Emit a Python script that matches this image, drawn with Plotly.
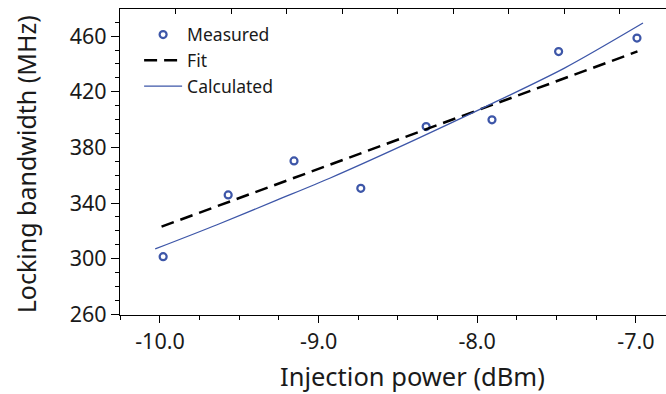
import plotly.graph_objects as go

# Data
meas_x = [-9.98, -9.57, -9.155, -8.734, -8.322, -7.907, -7.487, -6.993]
meas_y = [301.4, 345.8, 370.3, 350.6, 395.0, 399.8, 448.9, 458.6]

fit_x = [-9.99, -6.99]
fit_y = [323.0, 449.0]

calc_x = [-10.03, -9.64, -9.26, -8.93, -8.40, -7.96, -7.45, -6.955]
calc_y = [307.0, 324.4, 342.2, 357.8, 385.0, 408.6, 437.0, 469.4]

xticks = [-10.0, -9.0, -8.0, -7.0]
xticklabels = ["-10.0", "-9.0", "-8.0", "-7.0"]
yticks = [260, 300, 340, 380, 420, 460]

BLUE = "#3D56A8"
FONT = "Noto Sans"

fig = go.Figure()
fig.add_trace(go.Scatter(
    x=meas_x, y=meas_y, mode="markers", name="Measured",
    marker=dict(symbol="circle-open", size=7, color=BLUE, line=dict(width=2.2, color=BLUE)),
))
fig.add_trace(go.Scatter(
    x=fit_x, y=fit_y, mode="lines", name="Fit",
    line=dict(color="black", width=2.5, dash="13px,7px"),
))
fig.add_trace(go.Scatter(
    x=calc_x, y=calc_y, mode="lines", name="Calculated",
    line=dict(color=BLUE, width=1.3, shape="spline", smoothing=0.8),
))
# invisible trace to create the top axis
fig.add_trace(go.Scatter(x=[None], y=[None], xaxis="x2", showlegend=False, hoverinfo="skip"))

xr = [-10.252, -6.81]
fig.update_layout(
    width=666, height=394,
    margin=dict(l=120, r=0, t=9, b=79),
    paper_bgcolor="white", plot_bgcolor="white",
    font=dict(family=FONT, color="#1a1a1a", size=21),
    showlegend=True,
    legend=dict(
        x=0.035, y=0.975, xanchor="left", yanchor="top",
        bgcolor="rgba(0,0,0,0)", font=dict(size=17.5, family=FONT),
        itemwidth=38, tracegroupgap=0,
    ),
    xaxis=dict(
        range=xr, showgrid=False, zeroline=False,
        showline=True, linecolor="black", linewidth=1.3,
        tickmode="array", tickvals=xticks, ticktext=xticklabels,
        ticks="outside", ticklen=7, tickwidth=1.2, tickcolor="black",
        tickfont=dict(size=21.5, family=FONT),
        minor=dict(dtick=0.25, tick0=-10, ticks="outside", ticklen=4, tickwidth=1.2, tickcolor="black"),
    ),
    xaxis2=dict(
        range=xr, overlaying="x", side="top", showgrid=False, zeroline=False,
        showline=True, linecolor="black", linewidth=1.3,
        showticklabels=False, tick0=-9.901, dtick=0.35,
        ticks="inside", ticklen=5, tickwidth=1.2, tickcolor="black",
    ),
    yaxis=dict(
        range=[259.5, 479.5], showgrid=False, zeroline=False,
        showline=True, linecolor="black", linewidth=1.3,
        tickmode="array", tickvals=yticks,
        ticks="outside", ticklen=8, tickwidth=1.2, tickcolor="black",
        tickfont=dict(size=21.5, family=FONT),
        minor=dict(dtick=10, tick0=260, ticks="outside", ticklen=4, tickwidth=1.2, tickcolor="black"),
    ),
    annotations=[
        dict(
            text="Injection power (dBm)", xref="paper", yref="paper",
            x=0.535, y=-0.2, xanchor="center", yanchor="middle",
            showarrow=False, font=dict(size=25.5, family=FONT),
        ),
        dict(
            text="Locking bandwidth (MHz)", xref="paper", yref="paper",
            x=-0.172, y=0.493, xanchor="center", yanchor="middle", textangle=-90,
            showarrow=False, font=dict(size=25, family=FONT),
        ),
    ],
)

fig.write_html("out.html")
